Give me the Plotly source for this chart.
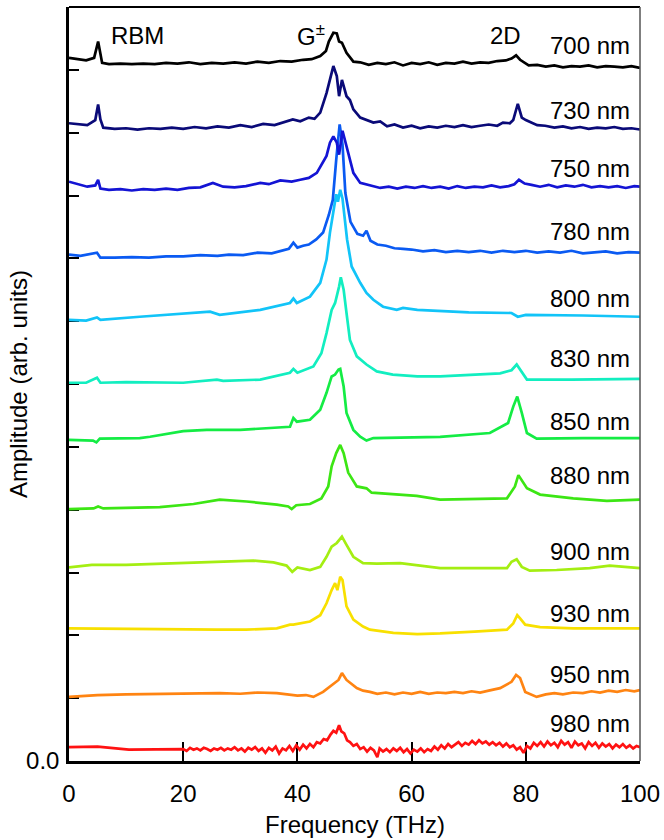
import plotly.graph_objects as go

# ---- data (frequency in THz, amplitude in arb. units relative to each trace's offset) ----
wavelengths = ["700 nm", "730 nm", "750 nm", "780 nm", "800 nm", "830 nm",
               "850 nm", "880 nm", "900 nm", "930 nm", "950 nm", "980 nm"]
offsets = [11, 10, 9, 8, 7, 6, 5, 4, 3, 2, 1, 0]

x_700 = [0, 3, 4.4, 5.1, 5.8, 7, 9, 11, 13, 15, 17, 19, 21, 23, 25, 27, 29, 31, 33, 35, 37, 39, 41, 42.5, 44, 45, 45.5, 46.3, 46.9, 47.3, 47.8, 48.6, 49.8, 51, 52.5, 54, 55.5, 57, 58.5, 60, 61.5, 63, 64.5, 66, 67.5, 69, 70.5, 72, 73.5, 75, 76.5, 77.5, 78.3, 79, 80.5, 82, 83.5, 85, 86.5, 88, 89.5, 91, 92.5, 94, 95.5, 97, 98.5, 100]
y_700 = [0.19, 0.15, 0.19, 0.45, 0.11, 0.09, 0.10, 0.09, 0.10, 0.09, 0.11, 0.10, 0.12, 0.09, 0.11, 0.10, 0.12, 0.10, 0.13, 0.11, 0.14, 0.13, 0.16, 0.17, 0.22, 0.30, 0.45, 0.59, 0.58, 0.45, 0.43, 0.27, 0.13, 0.12, 0.08, 0.11, 0.09, 0.12, 0.07, 0.11, 0.09, 0.12, 0.08, 0.11, 0.10, 0.13, 0.10, 0.12, 0.11, 0.14, 0.15, 0.18, 0.23, 0.16, 0.07, 0.08, 0.05, 0.07, 0.04, 0.06, 0.05, 0.07, 0.04, 0.06, 0.05, 0.04, 0.06, 0.03]

x_730 = [0, 3.2, 4.6, 5.1, 5.5, 6, 8, 10, 12, 14, 16, 18, 20, 22, 24, 26, 28, 30, 32, 34, 36, 38, 39.2, 40.5, 42, 43, 44, 45.1, 46.3, 46.9, 47.3, 47.8, 48.3, 48.6, 49.2, 49.8, 51, 52, 53.3, 54.5, 55.7, 57, 58.5, 60, 61.5, 63, 64.5, 66, 67.5, 69, 70.5, 72, 73.5, 75, 76, 77.2, 77.8, 78.6, 79.3, 80, 80.7, 82, 83.4, 85, 86.5, 88, 89.5, 91, 92.5, 94, 95.5, 97, 98.5, 100]
y_730 = [0.15, 0.12, 0.2, 0.45, 0.21, 0.08, 0.06, 0.07, 0.05, 0.07, 0.06, 0.08, 0.06, 0.09, 0.07, 0.10, 0.08, 0.12, 0.09, 0.14, 0.12, 0.17, 0.21, 0.18, 0.24, 0.22, 0.32, 0.63, 1.06, 0.90, 0.58, 0.84, 0.70, 0.58, 0.52, 0.37, 0.24, 0.21, 0.16, 0.18, 0.10, 0.13, 0.08, 0.11, 0.07, 0.10, 0.08, 0.11, 0.09, 0.12, 0.09, 0.11, 0.13, 0.11, 0.16, 0.15, 0.2, 0.46, 0.24, 0.20, 0.17, 0.12, 0.11, 0.08, 0.10, 0.07, 0.09, 0.06, 0.08, 0.07, 0.09, 0.06, 0.07, 0.05]

x_750 = [0, 3.2, 4.6, 5.1, 5.5, 7, 9, 11, 13, 15, 17, 19, 21, 23, 25.2, 27, 29, 31, 33.5, 35, 37, 39, 40.5, 42, 43.4, 45.1, 45.7, 46.3, 46.9, 47.3, 47.9, 48.6, 49.2, 49.8, 51, 52, 53.3, 54.5, 56, 57.5, 59, 60.5, 62, 63.5, 65, 66.5, 68, 69.5, 71, 72.5, 74, 75.5, 77, 78, 78.8, 79.8, 81, 82.5, 84, 85.5, 87, 88.5, 90, 91.5, 93, 94.5, 96, 97.5, 99, 100]
y_750 = [0.22, 0.14, 0.16, 0.25, 0.11, 0.09, 0.10, 0.08, 0.10, 0.09, 0.11, 0.09, 0.12, 0.13, 0.2, 0.14, 0.13, 0.15, 0.2, 0.18, 0.24, 0.22, 0.25, 0.28, 0.36, 0.63, 0.84, 0.94, 0.84, 0.65, 1.03, 0.78, 0.55, 0.36, 0.2, 0.18, 0.15, 0.12, 0.14, 0.11, 0.14, 0.12, 0.15, 0.12, 0.14, 0.11, 0.15, 0.12, 0.14, 0.13, 0.16, 0.13, 0.15, 0.18, 0.25, 0.19, 0.17, 0.14, 0.17, 0.13, 0.16, 0.14, 0.17, 0.13, 0.15, 0.13, 0.15, 0.12, 0.15, 0.14]

x_780 = [0, 2, 4.9, 5.5, 8, 11, 14, 17, 20, 23, 26, 28, 30.5, 33, 35.5, 38.5, 39.3, 40, 41, 42, 43.3, 44.5, 45.5, 46.2, 46.8, 47.4, 47.9, 48.4, 49.3, 50.5, 51.5, 52.1, 52.8, 54, 55.5, 57, 58.5, 60, 62, 64, 66, 68, 70, 72, 74, 76, 78, 80, 82, 84, 86, 88, 90, 92, 94, 96, 98, 100]
y_780 = [0.06, 0.04, 0.09, 0.01, 0.01, 0.02, 0.01, 0.03, 0.03, 0.05, 0.04, 0.06, 0.05, 0.09, 0.08, 0.15, 0.25, 0.17, 0.20, 0.22, 0.30, 0.41, 0.69, 0.93, 1.57, 2.13, 1.81, 1.04, 0.58, 0.39, 0.36, 0.44, 0.28, 0.22, 0.20, 0.16, 0.15, 0.14, 0.11, 0.13, 0.10, 0.12, 0.10, 0.12, 0.09, 0.12, 0.10, 0.12, 0.09, 0.11, 0.09, 0.12, 0.08, 0.10, 0.11, 0.08, 0.10, 0.09]

x_800 = [0, 3, 4.9, 5.5, 12.4, 20, 24.7, 26.4, 30, 33.5, 38.7, 39.3, 39.9, 42.2, 44, 45.1, 45.7, 46.3, 46.8, 47.1, 47.5, 47.9, 48.3, 48.7, 49.5, 51, 52.1, 53.3, 55, 57.4, 58.5, 61, 70, 77.5, 78.6, 80, 90, 100]
y_800 = [0.02, 0.01, 0.06, 0.02, 0.07, 0.12, 0.15, 0.10, 0.14, 0.18, 0.29, 0.36, 0.29, 0.39, 0.61, 0.98, 1.41, 1.77, 2.02, 1.90, 2.09, 1.95, 1.67, 1.30, 0.87, 0.61, 0.45, 0.34, 0.23, 0.18, 0.21, 0.18, 0.14, 0.13, 0.07, 0.10, 0.09, 0.07]

x_830 = [0, 3, 4.9, 5.5, 10, 20, 25.9, 27, 33.5, 38.7, 39.3, 40, 42.8, 44.2, 45.1, 46, 46.6, 46.9, 47.3, 47.6, 48.1, 48.6, 49.2, 50.4, 52.1, 53.9, 56.7, 61, 65, 75.5, 77.5, 78.4, 79.3, 80.2, 88, 100]
y_830 = [0.02, 0.02, 0.10, 0.02, 0.03, 0.02, 0.07, 0.05, 0.07, 0.18, 0.24, 0.18, 0.28, 0.49, 0.81, 1.18, 1.29, 1.39, 1.55, 1.70, 1.50, 1.13, 0.70, 0.44, 0.31, 0.20, 0.15, 0.12, 0.12, 0.17, 0.22, 0.31, 0.18, 0.07, 0.07, 0.08]

x_850 = [0, 4.2, 4.8, 5.4, 12.4, 14.2, 20, 24.1, 30, 33.5, 38.7, 39.3, 39.9, 42.2, 44, 45.1, 46, 46.6, 47.2, 47.5, 48.1, 48.6, 49.8, 51, 52.1, 53.3, 60.9, 65, 73.7, 76.9, 77.8, 78.5, 79.3, 80.2, 81.9, 90, 100]
y_850 = [0.11, 0.10, 0.07, 0.13, 0.14, 0.16, 0.25, 0.27, 0.27, 0.29, 0.32, 0.46, 0.40, 0.43, 0.59, 0.86, 1.12, 1.15, 1.23, 1.24, 0.96, 0.54, 0.27, 0.16, 0.10, 0.14, 0.16, 0.16, 0.22, 0.38, 0.64, 0.80, 0.54, 0.22, 0.13, 0.14, 0.14]

x_880 = [0, 4.3, 5.1, 6, 15.9, 21.8, 26.4, 31.1, 36.4, 38.4, 39, 39.8, 42.2, 44.2, 45.4, 46, 46.8, 47.5, 48.1, 48.9, 50.4, 52.1, 53, 56.8, 60.9, 65, 76.7, 78.1, 78.7, 80.2, 82.5, 88.3, 94.2, 100]
y_880 = [0.01, 0.02, 0.05, 0.02, 0.04, 0.09, 0.16, 0.13, 0.08, 0.05, 0.01, 0.07, 0.09, 0.18, 0.37, 0.69, 0.90, 1.03, 0.90, 0.59, 0.37, 0.34, 0.27, 0.25, 0.22, 0.16, 0.18, 0.37, 0.55, 0.34, 0.24, 0.18, 0.14, 0.16]

x_900 = [0, 4, 10, 23.5, 26.4, 32.3, 35.8, 38.1, 39.1, 40, 42.2, 44, 45.1, 46, 46.9, 47.8, 48.6, 49.8, 51.5, 53.9, 58, 61, 65, 76.7, 77.5, 78.4, 79.3, 80.7, 85.4, 91.2, 94.7, 100]
y_900 = [0.08, 0.12, 0.12, 0.16, 0.18, 0.19, 0.16, 0.11, 0.01, 0.08, 0.04, 0.09, 0.25, 0.41, 0.47, 0.57, 0.44, 0.25, 0.15, 0.14, 0.15, 0.12, 0.07, 0.07, 0.17, 0.21, 0.09, 0.03, 0.04, 0.07, 0.11, 0.07]

x_930 = [0, 5, 15.9, 25.9, 31, 36.4, 38.7, 39.3, 42.2, 44, 45.1, 46, 46.6, 47, 47.5, 47.9, 48.6, 49.8, 51.5, 52.7, 56.8, 61, 65, 71, 76.7, 77.8, 78.5, 79, 79.9, 82.5, 88.3, 100]
y_930 = [0.11, 0.11, 0.10, 0.09, 0.09, 0.11, 0.17, 0.17, 0.22, 0.32, 0.51, 0.72, 0.83, 0.72, 0.93, 0.88, 0.46, 0.25, 0.14, 0.09, 0.04, 0.02, 0.03, 0.06, 0.09, 0.19, 0.32, 0.27, 0.17, 0.13, 0.11, 0.11]

x_950 = [0, 5, 10, 15.9, 21, 26.4, 30, 33, 36.4, 38, 40, 41.5, 42.8, 44.5, 46, 47.2, 47.8, 48.6, 50.4, 51.5, 52.7, 54, 55.5, 57, 58.5, 60, 61.5, 63, 64.5, 66, 67.5, 69, 70.5, 72, 73.5, 75.5, 77.5, 78.3, 79, 79.9, 81.9, 83.5, 85, 86.5, 88.3, 90, 91.5, 93, 94.5, 96, 97.5, 99, 100]
y_950 = [0.02, 0.05, 0.06, 0.07, 0.07, 0.08, 0.07, 0.09, 0.08, 0.06, 0.04, 0.05, 0.02, 0.10, 0.21, 0.29, 0.40, 0.29, 0.16, 0.12, 0.10, 0.07, 0.09, 0.06, 0.09, 0.07, 0.10, 0.07, 0.09, 0.08, 0.10, 0.08, 0.11, 0.09, 0.12, 0.16, 0.26, 0.37, 0.32, 0.10, 0.02, 0.06, 0.08, 0.06, 0.09, 0.08, 0.11, 0.09, 0.12, 0.10, 0.13, 0.11, 0.13]

x_980 = [0, 5, 10.5, 15, 20, 20.6, 21.2, 21.8, 22.4, 23, 23.6, 24.2, 24.8, 25.4, 26, 26.6, 27.2, 27.8, 28.4, 29, 29.6, 30.2, 30.8, 31.4, 32, 32.6, 33.2, 33.8, 34.4, 35, 35.6, 36.2, 36.8, 37.4, 38, 38.6, 39.2, 39.8, 40.4, 41, 41.6, 42.2, 42.8, 43.4, 44, 44.6, 45.2, 45.8, 46.3, 46.8, 47.3, 47.7, 48.2, 48.7, 49.2, 49.8, 50.4, 51, 51.6, 52.2, 52.8, 53.4, 54, 54.4, 55, 55.6, 56.2, 56.8, 57.4, 58, 58.6, 59.2, 59.8, 60.4, 61, 61.6, 62.2, 62.8, 63.4, 64, 64.6, 65.2, 65.8, 66.4, 67, 67.6, 68.2, 68.8, 69.4, 70, 70.6, 71.2, 71.8, 72.4, 73, 73.6, 74.2, 74.8, 75.4, 76, 76.6, 77.2, 77.8, 78.4, 79, 79.6, 80.2, 80.8, 81.4, 82, 82.6, 83.2, 83.8, 84.4, 85, 85.6, 86.2, 86.8, 87.4, 88, 88.6, 89.2, 89.8, 90.4, 91, 91.6, 92.2, 92.8, 93.4, 94, 94.6, 95.2, 95.8, 96.4, 97, 97.6, 98.2, 98.8, 99.4, 100]
y_980 = [0.22, 0.23, 0.18, 0.19, 0.19, 0.16, 0.21, 0.18, 0.20, 0.17, 0.21, 0.19, 0.16, 0.2, 0.18, 0.21, 0.17, 0.2, 0.18, 0.22, 0.17, 0.2, 0.15, 0.21, 0.18, 0.22, 0.16, 0.2, 0.13, 0.21, 0.17, 0.23, 0.12, 0.2, 0.17, 0.24, 0.16, 0.25, 0.18, 0.26, 0.2, 0.27, 0.22, 0.3, 0.28, 0.35, 0.33, 0.42, 0.48, 0.45, 0.57, 0.47, 0.44, 0.33, 0.30, 0.24, 0.27, 0.19, 0.22, 0.15, 0.21, 0.17, 0.06, 0.2, 0.15, 0.19, 0.14, 0.2, 0.16, 0.21, 0.14, 0.19, 0.12, 0.18, 0.15, 0.2, 0.14, 0.19, 0.16, 0.23, 0.18, 0.25, 0.2, 0.27, 0.22, 0.26, 0.3, 0.24, 0.29, 0.26, 0.32, 0.27, 0.33, 0.28, 0.31, 0.26, 0.3, 0.25, 0.29, 0.23, 0.28, 0.22, 0.25, 0.18, 0.22, 0.13, 0.24, 0.2, 0.29, 0.24, 0.3, 0.23, 0.31, 0.25, 0.29, 0.22, 0.32, 0.26, 0.3, 0.21, 0.31, 0.25, 0.28, 0.2, 0.3, 0.24, 0.29, 0.21, 0.28, 0.23, 0.27, 0.2, 0.26, 0.22, 0.27, 0.21, 0.25, 0.2, 0.24, 0.22]

x_ticks = [0, 20, 40, 60, 80, 100]
peak_labels = ["RBM", "G<sup>±</sup>", "2D"]
peak_label_x = [12.0, 42.3, 76.5]

# ---- styling ----
colors = ["#000000", "#0a0a78", "#1414d4", "#0a5af2", "#12c4f8", "#12eec0",
          "#14ec44", "#3ce614", "#a4ee12", "#f8e000", "#ff8412", "#ff1212"]
xs = [x_700, x_730, x_750, x_780, x_800, x_830, x_850, x_880, x_900, x_930, x_950, x_980]
ys = [y_700, y_730, y_750, y_780, y_800, y_830, y_850, y_880, y_900, y_930, y_950, y_980]
label_dy = [0.39, 0.35, 0.43, 0.42, 0.36, 0.40, 0.41, 0.54, 0.33, 0.35, 0.37, 0.59]

FONT = "Liberation Sans, Arial, Helvetica, sans-serif"

fig = go.Figure()
for i in reversed(range(len(wavelengths))):
    fig.add_trace(go.Scatter(
        x=xs[i], y=[v + offsets[i] for v in ys[i]],
        mode="lines", line=dict(color=colors[i], width=2.7),
        name=wavelengths[i], showlegend=False, hoverinfo="skip"))

annotations = []
for i, w in enumerate(wavelengths):
    annotations.append(dict(x=98.6, y=offsets[i] + label_dy[i], xref="x", yref="y",
                            text=w, showarrow=False, xanchor="right", yanchor="middle",
                            font=dict(family=FONT, size=24, color="black")))
for t, px in zip(peak_labels, peak_label_x):
    annotations.append(dict(x=px, y=11.55, xref="x", yref="y", text=t, showarrow=False,
                            xanchor="center", yanchor="middle",
                            font=dict(family=FONT, size=24, color="black")))
# axis titles
annotations.append(dict(x=0.5, y=0, xref="paper", yref="paper", yshift=-63,
                        text="Frequency (THz)", showarrow=False, xanchor="center",
                        yanchor="middle", font=dict(family=FONT, size=24, color="black")))
annotations.append(dict(x=0, y=0.5, xref="paper", yref="paper", xshift=-51,
                        text="Amplitude (arb. units)", showarrow=False, textangle=-90,
                        xanchor="center", yanchor="middle",
                        font=dict(family=FONT, size=24, color="black")))

# frame: black top edge, thin grey right edge
shapes = [
    dict(type="line", xref="paper", yref="paper", x0=0, x1=1, y0=1, y1=1,
         line=dict(color="black", width=2.2)),
    dict(type="line", xref="paper", yref="paper", x0=1, x1=1, y0=0, y1=1,
         line=dict(color="#555555", width=1.5)),
]

fig.update_layout(
    width=664, height=840,
    margin=dict(l=69, r=24, t=7, b=79, autoexpand=False),
    paper_bgcolor="white", plot_bgcolor="white",
    font=dict(family=FONT, size=24, color="black"),
    annotations=annotations, shapes=shapes,
    xaxis=dict(range=[0, 100], tickvals=x_ticks, ticks="inside", ticklen=19, tickwidth=2,
               tickcolor="black", showline=True, linewidth=2.5, linecolor="black",
               mirror=False, showgrid=False, zeroline=False, layer="below traces",
               ticklabelstandoff=9, automargin=False,
               tickfont=dict(family=FONT, size=24)),
    yaxis=dict(range=[0, 12], tickvals=[0], ticktext=["0.0"],
               ticks="inside", ticklen=10, tickwidth=2,
               tickcolor="black", showline=True, linewidth=2.5, linecolor="black",
               mirror=False, showgrid=False, zeroline=False, layer="below traces",
               ticklabelstandoff=2, automargin=False,
               minor=dict(tickvals=list(range(1, 12)), ticks="inside", ticklen=10,
                          tickwidth=2, tickcolor="black", showgrid=False),
               tickfont=dict(family=FONT, size=24)),
)

fig.write_html("out.html", config={"displayModeBar": False},
               post_script="document.body.style.margin='0';document.body.style.overflow='hidden';")
